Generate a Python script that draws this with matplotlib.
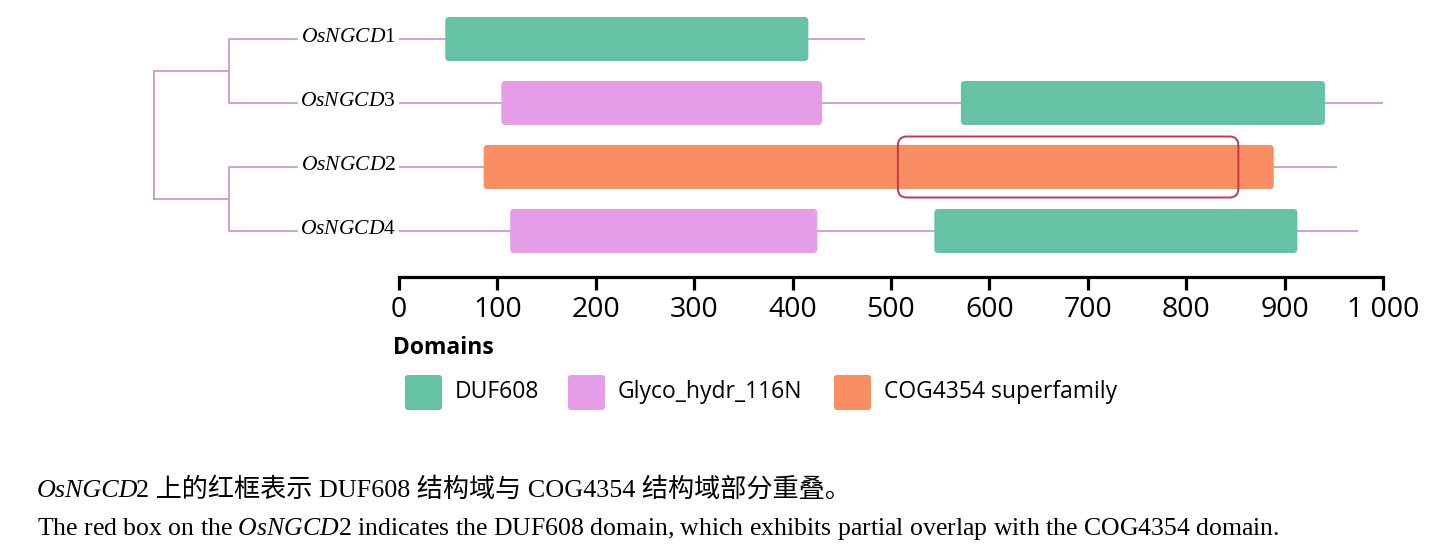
import matplotlib
matplotlib.use("Agg")
import matplotlib.pyplot as plt
from matplotlib.patches import FancyBboxPatch

# Data
genes = ["1", "3", "2", "4"]                # OsNGCD suffix, top to bottom
gene_len = [474, 1000, 953, 975]
dom_row = [0, 1, 1, 2, 3, 3]
dom_name = ["DUF608", "Glyco_hydr_116N", "DUF608",
            "COG4354 superfamily", "Glyco_hydr_116N", "DUF608"]
dom_start = [47, 104, 571, 86, 113, 544]
dom_end = [416, 430, 941, 889, 425, 913]
overlap_row = 2
overlap_start, overlap_end = 507, 853
legend_names = ["DUF608", "Glyco_hydr_116N", "COG4354 superfamily"]
legend_colors = ["#66c2a5", "#e69ce6", "#f98e62"]
ticks = list(range(0, 1001, 100))
tick_labels = [f"{t:,}".replace(",", " ") for t in ticks]

# Layout
W, H = 1447, 555
PX = 0.984          # pixels per residue
X0 = 399            # pixel of residue 0
ROW0, ROWH = 39, 64  # pixel of first row centre, row spacing
line_col = "#cc99cc"
serif = "Liberation Serif"
sans = "Open Sans"

plt.rcParams["mathtext.fontset"] = "custom"
plt.rcParams["mathtext.rm"] = serif
plt.rcParams["mathtext.it"] = serif + ":italic"

fig = plt.figure(figsize=(W / 100, H / 100), dpi=100)

ax = fig.add_axes([0, 0, 1, 1])
ax.set_xlim(-X0 / PX, (W - X0) / PX)
ax.set_ylim((H - ROW0) / ROWH, -ROW0 / ROWH)
ax.axis("off")
aspect = PX / ROWH

# backbones
for i, L in enumerate(gene_len):
    ax.plot([0, L], [i, i], color=line_col, lw=1.3, zorder=1, solid_capstyle="butt")

# domains
col_of = dict(zip(legend_names, legend_colors))
bh = 44 / ROWH
for r, n, s, e in zip(dom_row, dom_name, dom_start, dom_end):
    ax.add_patch(FancyBboxPatch((s, r - bh / 2), e - s, bh,
                                boxstyle="round,pad=0,rounding_size=4",
                                mutation_aspect=aspect, fc=col_of[n], ec="none", zorder=2))

# overlap box
oh = 61 / ROWH
ax.add_patch(FancyBboxPatch((overlap_start, overlap_row - oh / 2), overlap_end - overlap_start, oh,
                            boxstyle="round,pad=0,rounding_size=9",
                            mutation_aspect=aspect, fill=False, ec="#c4384c", lw=1.4, zorder=4))

# tree
root_x, inner_x, leaf_x = (154 - X0) / PX, (229 - X0) / PX, (297 - X0) / PX
for a, b in [(0, 1), (2, 3)]:
    ax.plot([leaf_x, inner_x, inner_x, leaf_x], [a, a, b, b], color=line_col, lw=1.3)
    ax.plot([root_x, inner_x], [(a + b) / 2] * 2, color=line_col, lw=1.3)
ax.plot([root_x, root_x], [0.5, 2.5], color=line_col, lw=1.3)

# gene labels
for i, g in enumerate(genes):
    ax.text(-3 / PX, i + 3 / ROWH, r"$\mathit{OsNGCD}$" + g, family=serif,
            fontsize=15.5, ha="right", va="baseline")

# ruler
ax2 = fig.add_axes([X0 / W, 1 - 277 / H, 1000 * PX / W, 1e-4])
ax2.set_xlim(0, 1000)
for sp in ["top", "left", "right"]:
    ax2.spines[sp].set_visible(False)
ax2.spines["bottom"].set_linewidth(2.3)
ax2.set_yticks([])
ax2.set_xticks(ticks)
ax2.set_xticklabels(tick_labels, family=sans)
ax2.tick_params(axis="x", direction="out", length=9.5, width=2.3, pad=4, labelsize=20.5)
ax2.patch.set_visible(False)

# legend and captions in pixel coordinates
ov = fig.add_axes([0, 0, 1, 1])
ov.set_xlim(0, W)
ov.set_ylim(H, 0)
ov.axis("off")

ov.text(393, 348, "Domains", family=sans, fontweight="bold", fontsize=16.5, va="center", ha="left")
leg_x = [405, 568, 834]
for x, n, c in zip(leg_x, legend_names, legend_colors):
    ov.add_patch(FancyBboxPatch((x, 375), 37, 35, boxstyle="round,pad=0,rounding_size=3",
                                fc=c, ec="none"))
    ov.text(x + 50, 392, n, family=sans, fontsize=16.5, va="center", ha="left")

# Chinese caption: italic gene name then mixed text
r = fig.canvas.get_renderer()
t1 = ov.text(37, 497, "OsNGCD", family=serif, fontstyle="italic", fontsize=18.8, va="baseline")
w1 = t1.get_window_extent(renderer=r).width
ov.text(37 + w1 - 2, 497, "2 上的红框表示 DUF608 结构域与 COG4354 结构域部分重叠。",
        family=[serif, "Noto Sans CJK SC"], fontsize=18.8, va="baseline")

ov.text(37, 535, r"The red box on the $\mathit{OsNGCD}$2 indicates the DUF608 domain, "
        "which exhibits partial overlap with the COG4354 domain.",
        family=serif, fontsize=18.5, va="baseline")

fig.savefig("out.png", dpi=100)
